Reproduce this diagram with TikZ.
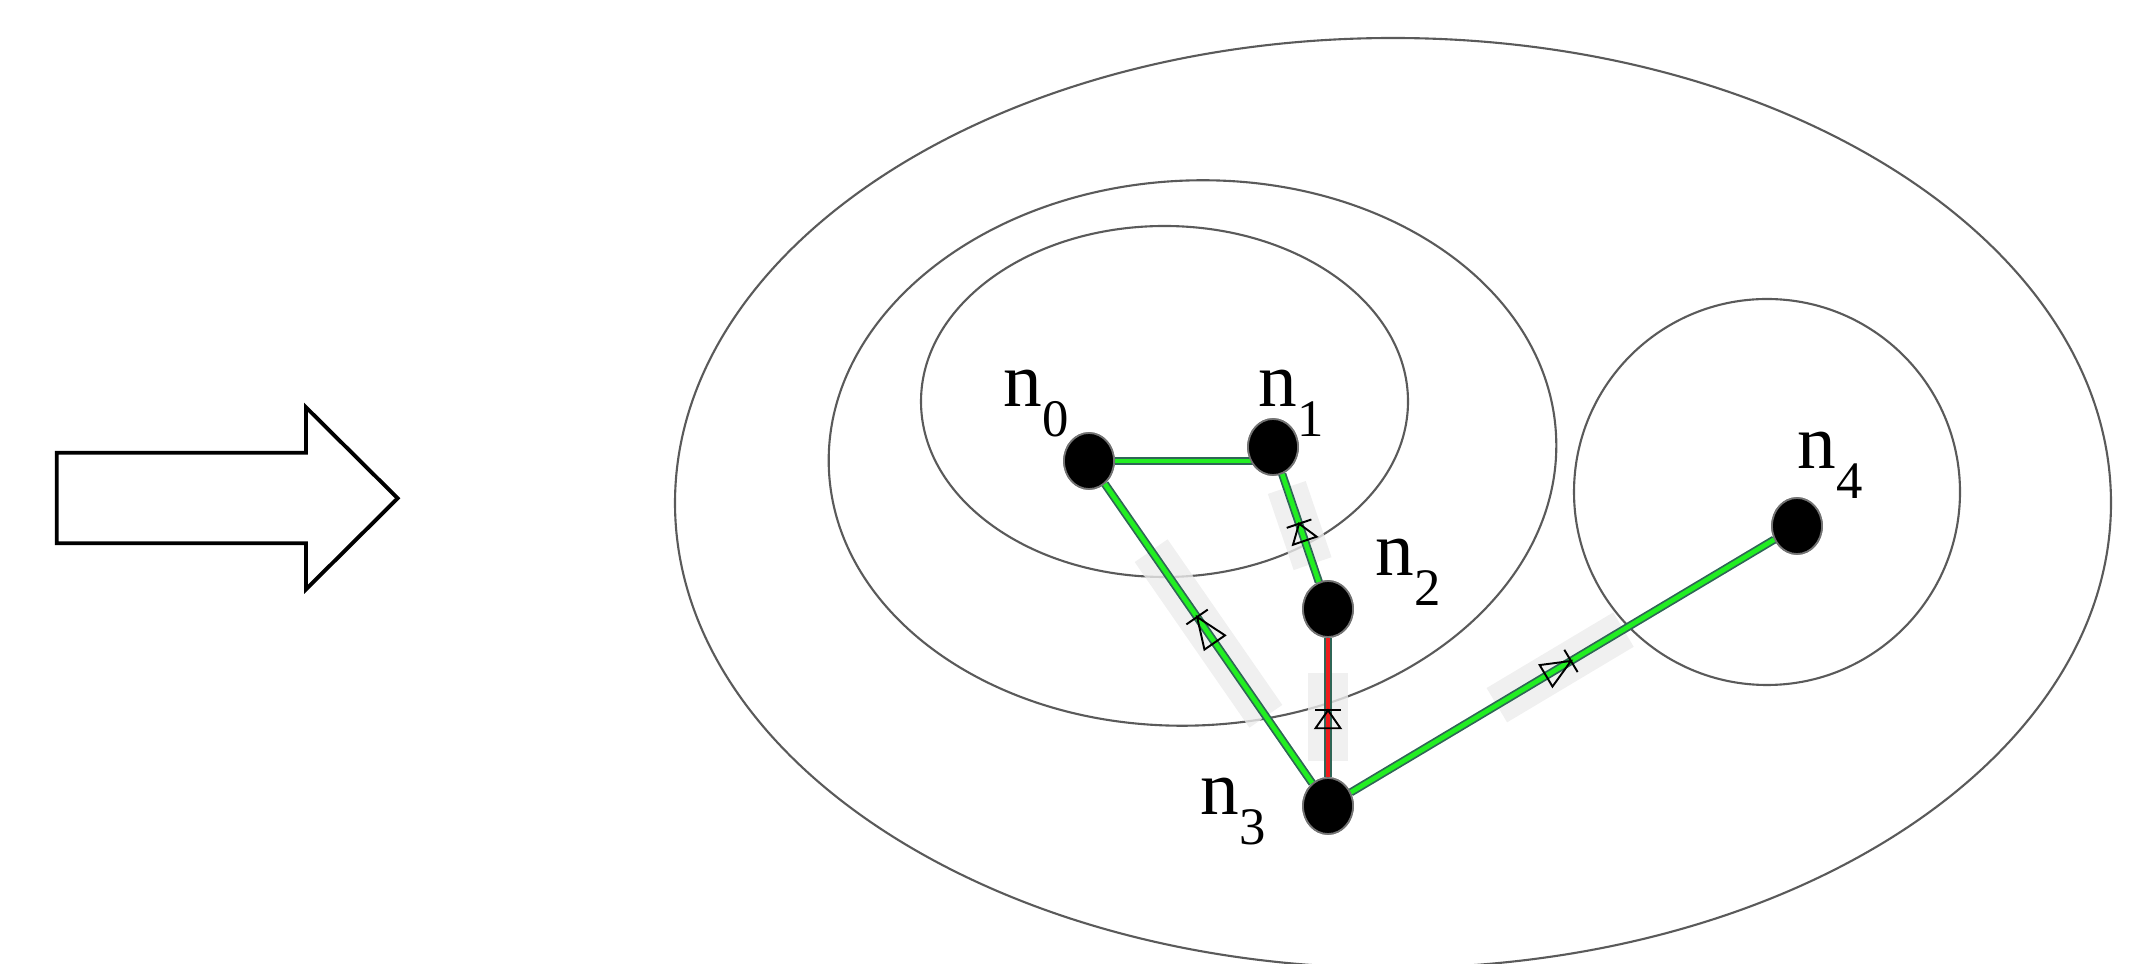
\documentclass[tikz,border=0pt]{standalone}
\usepackage{fontspec}
\setmainfont{Liberation Serif}
\usetikzlibrary{calc, shapes.geometric, decorations.markings}
\definecolor{RingGray}{HTML}{5A5A5A}
\definecolor{EdgeLime}{HTML}{22EE22}
\definecolor{EdgeRed}{HTML}{EE1C1C}
\definecolor{EdgeRim}{HTML}{2F6656}
\definecolor{BandGray}{HTML}{ECECEC}
\newcommand{\vlab}[1]{n\raisebox{-0.30cm}{\fontsize{15}{18}\selectfont #1}}
\tikzset{
  ring/.style={draw=RingGray, line width=0.6pt},
  vertex/.style={ellipse, fill=black, draw=black!55, line width=0.5pt, minimum width=0.5cm, minimum height=0.56cm, inner sep=0pt},
  vlabel/.style={anchor=base west, inner sep=0pt, font=\fontsize{22}{26}\selectfont},
  treeedge/.style={draw=EdgeRim, line width=0.5pt, double=EdgeLime, double distance=1.35pt},
  rededge/.style={treeedge, double=EdgeRed},
  band/.style={draw=BandGray, line width=0.4cm, opacity=0.8},
  tipline/.style={draw=black, line width=0.55pt},
  flow/.style 2 args={postaction={decorate}, decoration={markings, mark=at position #1 with {
      \draw[tipline] (0,0) -- (-#2,0.125) -- (-#2,-0.125) -- cycle;
      \draw[tipline] (0,-0.13) -- (0,0.13);}}}
}
\begin{document}
\begin{tikzpicture}
\useasboundingbox (0,0) rectangle (21.5,9.64);
% big arrow on the left
\draw[line width=1.1pt, line join=miter] (0.567,5.113) -- (3.06,5.113) -- (3.06,5.567) -- (3.977,4.657)
  -- (3.06,3.747) -- (3.06,4.207) -- (0.567,4.207) -- cycle;
% clusters
\draw[ring] (13.93,4.61) ellipse [x radius=7.18, y radius=4.65];
\draw[ring, rotate around={2.7:(11.925,5.11)}] (11.925,5.11) ellipse [x radius=3.64, y radius=2.725];
\draw[ring] (11.645,5.625) ellipse [x radius=2.435, y radius=1.755];
\draw[ring] (17.67,4.72) circle [radius=1.93];
% vertices
\node[vertex] (n0) at (10.89,5.03) {};
\node[vertex] (n1) at (12.73,5.17) {};
\node[vertex] (n2) at (13.28,3.55) {};
\node[vertex] (n3) at (13.28,1.58) {};
\node[vertex] (n4) at (17.97,4.38) {};
% shaded bands
\draw[band] ($(n3)!0.26!(n0)$) -- ($(n3)!0.74!(n0)$);
\draw[band] ($(n2)!0.28!(n1)$) -- ($(n2)!0.75!(n1)$);
\draw[band] ($(n3)!0.23!(n2)$) -- ($(n3)!0.675!(n2)$);
\draw[band] ($(n3)!0.36!(n4)$) -- ($(n3)!0.63!(n4)$);
% edges
\draw[treeedge] (n0) -- (n0 -| n1);
\draw[treeedge] (n3) -- (n0);
\draw[treeedge] (n2) -- (n1);
\draw[rededge] (n3) -- (n2);
\draw[treeedge] (n3) -- (n4);
\path[flow={0.556}{0.31}] (n3) -- (n0);
\path[flow={0.54}{0.18}] (n2) -- (n1);
\path[flow={0.48}{0.18}] (n3) -- (n2);
\path[flow={0.52}{0.29}] (n3) -- (n4);
% redraw vertices on top
\foreach \v in {n0,n1,n2,n3,n4}
  \node[vertex] at (\v) {};
% labels
\node[vlabel] (l0) at ($(n0)+(-0.86,0.54)$) {\vlab{0}};
\node[vlabel] (l1) at ($(n1)+(-0.15,0.40)$) {\vlab{1}};
\node[vlabel] (l2) at ($(n2)+(0.47,0.33)$) {\vlab{2}};
\node[vlabel] (l3) at ($(n3)+(-1.28,-0.09)$) {\vlab{3}};
\node[vlabel] (l4) at ($(n4)+(0.00,0.57)$) {\vlab{4}};
\end{tikzpicture}
\end{document}
